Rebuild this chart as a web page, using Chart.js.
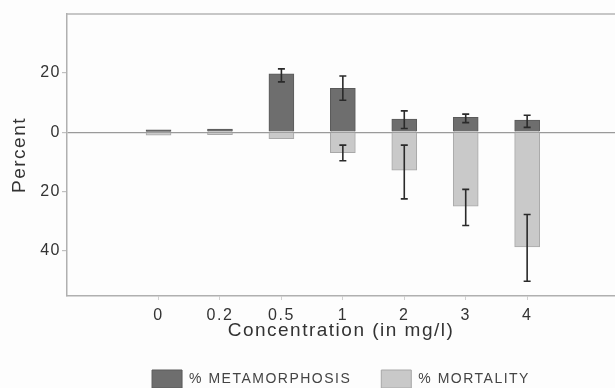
<!DOCTYPE html>
<html><head><meta charset="utf-8">
<script src="https://cdn.jsdelivr.net/npm/chart.js@4.4.0/dist/chart.umd.min.js"></script>
<style>html,body{margin:0;padding:0;background:#fdfdfd;} canvas{display:block;}</style>
</head><body>
<canvas id="c" width="615" height="388"></canvas>
<script>
// ---- data ----
const categories = ['0', '0.2', '0.5', '1', '2', '3', '4'];
const metamorphosis = [0.8, 1.0, 19.7, 14.8, 4.4, 5.0, 4.1];
const mortality = [-1.0, -0.9, -2.2, -7.0, -12.9, -25.1, -38.9];
const metaErrLow  = [null, null, 17.0, 10.8, 1.2, 3.2, 1.6];
const metaErrHigh = [null, null, 21.4, 19.0, 7.2, 6.1, 5.7];
const mortErrLow  = [null, null, null, -9.7, -22.6, -31.6, -50.5];
const mortErrHigh = [null, null, null, -4.4, -4.4, -19.4, -27.9];
const yTickValues = [20, 0, -20, -40];
const seriesNames = ['% METAMORPHOSIS', '% MORTALITY'];
const xTitle = 'Concentration (in mg/l)';
const yTitle = 'Percent';

const FONT = "'Liberation Sans', Arial, sans-serif";

const spacingPlugin = {
  id: 'spacing',
  beforeLayout(chart) { chart.ctx.letterSpacing = '1.5px'; },
  beforeDraw(chart) { chart.ctx.letterSpacing = '1.5px'; }
};

const framePlugin = {
  id: 'frame',
  beforeDatasetsDraw(chart) {
    const {ctx, chartArea} = chart;
    ctx.save();
    ctx.strokeStyle = '#b5b5b5';
    ctx.lineWidth = 1.5;
    ctx.beginPath();
    ctx.moveTo(chartArea.left, chartArea.top);
    ctx.lineTo(chartArea.right, chartArea.top);
    ctx.stroke();
    ctx.restore();
  }
};

const errorBarPlugin = {
  id: 'errorBars',
  afterDatasetsDraw(chart) {
    const {ctx} = chart;
    const xs = chart.scales.x, ys = chart.scales.y;
    const sets = [[metaErrLow, metaErrHigh], [mortErrLow, mortErrHigh]];
    ctx.save();
    ctx.strokeStyle = '#2a2a2a';
    ctx.lineWidth = 1.6;
    sets.forEach(([lo, hi]) => {
      categories.forEach((c, i) => {
        if (lo[i] == null || hi[i] == null) return;
        const x = xs.getPixelForValue(i);
        const y1 = ys.getPixelForValue(lo[i]);
        const y2 = ys.getPixelForValue(hi[i]);
        ctx.beginPath();
        ctx.moveTo(x, y1); ctx.lineTo(x, y2);
        ctx.moveTo(x - 3.5, y1); ctx.lineTo(x + 3.5, y1);
        ctx.moveTo(x - 3.5, y2); ctx.lineTo(x + 3.5, y2);
        ctx.stroke();
      });
    });
    ctx.restore();
  }
};

new Chart(document.getElementById('c'), {
  type: 'bar',
  data: {
    datasets: [
      {
        label: seriesNames[0],
        data: metamorphosis.map((v, i) => ({x: i, y: v})),
        backgroundColor: '#6e6e6e',
        borderColor: '#5a5a5a',
        borderWidth: 1,
        barThickness: 25
      },
      {
        label: seriesNames[1],
        data: mortality.map((v, i) => ({x: i, y: v})),
        backgroundColor: '#c9c9c9',
        borderColor: '#a8a8a8',
        borderWidth: 1,
        barThickness: 25
      }
    ]
  },
  options: {
    responsive: false,
    animation: false,
    devicePixelRatio: 1,
    layout: {padding: {top: 14, right: 0, left: 0, bottom: -10}},
    plugins: {
      tooltip: {enabled: false},
      legend: {
        position: 'bottom',
        fullSize: false,
        labels: {
          boxWidth: 30,
          boxHeight: 18,
          padding: 30,
          color: '#444',
          font: {family: FONT, size: 14}
        }
      }
    },
    scales: {
      x: {
        type: 'linear',
        stacked: true,
        offset: false,
        min: -1.49,
        max: 7.43,
        afterBuildTicks(scale) { scale.ticks = categories.map((c, i) => ({value: i})); },
        afterFit(scale) { scale.height = 44; },
        ticks: {
          autoSkip: false,
          maxRotation: 0,
          padding: 6,
          color: '#333',
          font: {family: FONT, size: 16},
          callback: (v) => categories[v]
        },
        grid: {offset: false, drawOnChartArea: false, tickLength: 4, tickColor: '#d0d0d0'},
        border: {color: '#b0b0b0', width: 1.5},
        title: {
          display: true, text: xTitle, color: '#333',
          font: {family: FONT, size: 19, lineHeight: 1},
          padding: {top: 0, bottom: 0}
        }
      },
      y: {
        stacked: true,
        min: -55.5,
        max: 40,
        afterBuildTicks(scale) { scale.ticks = yTickValues.map(v => ({value: v})); },
        afterFit(scale) { scale.width = 67; },
        ticks: {
          padding: 1,
          color: '#333',
          font: {family: FONT, size: 16},
          callback: (v) => String(Math.abs(v))
        },
        grid: {
          color: (ctx) => (ctx.tick && ctx.tick.value === 0) ? '#9a9a9a' : 'rgba(0,0,0,0)',
          lineWidth: 1.2,
          tickColor: '#c0c0c0',
          tickLength: 5
        },
        border: {color: '#b0b0b0', width: 1.5},
        title: {
          display: true, text: yTitle, color: '#333',
          font: {family: FONT, size: 19},
          padding: {top: 8, bottom: 0}
        }
      }
    }
  },
  plugins: [spacingPlugin, framePlugin, errorBarPlugin]
});
</script>
</body></html>
